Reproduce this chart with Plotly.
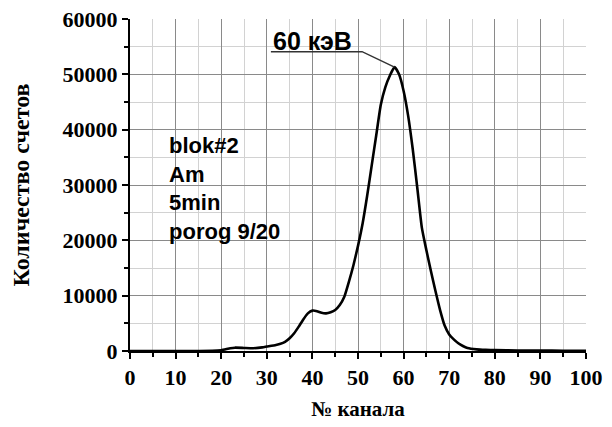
import plotly.graph_objects as go

channels = [0, 5, 10, 15, 18, 20, 22, 23, 25, 27, 29, 30, 32, 33, 34, 35, 36, 37, 38, 39,
            40, 41, 42, 43, 44, 45, 46, 47, 48, 49, 50, 51, 52, 53, 54, 55, 56, 57, 58, 59,
            60, 61, 62, 63, 64, 65, 66, 67, 68, 69, 70, 71, 72, 73, 74, 76, 78, 80, 85, 90, 95, 100]
counts = [0, 0, 0, 0, 30, 150, 500, 600, 550, 500, 650, 800, 1100, 1300, 1650, 2300, 3200, 4400, 5700, 6800,
          7300, 7200, 6900, 6800, 7000, 7400, 8300, 9800, 12500, 15500, 19000, 23000, 28000, 33500, 39000, 44500,
          47700, 49800, 51300, 50000,
          47000, 42500, 36500, 29500, 22300, 18200, 14400, 10800, 7400, 4600, 3000, 2100, 1400, 900, 550, 300, 200,
          150, 100, 80, 50, 30]

x_ticks = [0, 10, 20, 30, 40, 50, 60, 70, 80, 90, 100]
y_ticks = [0, 10000, 20000, 30000, 40000, 50000, 60000]
y_tick_labels = ["0", "10000", "20000", "30000", "40000", "50000", "60000"]
info_lines = ["blok#2", "Am", "5min", "porog 9/20"]
peak_label = "60 кэВ"

serif = "Liberation Serif, Times New Roman, serif"
sans = "Liberation Sans, Arial, sans-serif"

ipk = counts.index(max(counts))
px, py = channels[ipk], counts[ipk]

fig = go.Figure()
fig.add_trace(go.Scatter(x=channels, y=counts, mode="lines",
                         line=dict(color="black", width=2.6, shape="spline", smoothing=0.5),
                         showlegend=False))

axis_common = dict(
    showline=True, linecolor="black", linewidth=2,
    ticks="outside", ticklen=6, tickwidth=2, tickcolor="black",
    showgrid=True, gridcolor="#8a8a8a", gridwidth=1, zeroline=False,
    automargin=False, ticklabeloverflow="allow",
    tickfont=dict(family=serif, size=22, color="black", weight="bold"),
)

fig.update_xaxes(range=[0, 100], tickvals=x_ticks, ticktext=[str(v) for v in x_ticks], **axis_common,
                 minor=dict(dtick=5, showgrid=True, gridcolor="#d2d2d2", gridwidth=1,
                            ticks="outside", ticklen=4, tickcolor="black", tickwidth=2),
                 title=dict(text="№ канала", standoff=12,
                            font=dict(family=serif, size=21, color="black", weight="bold")))
fig.update_yaxes(range=[0, 60000], tickvals=y_ticks, ticktext=y_tick_labels, **axis_common,
                 minor=dict(dtick=5000, showgrid=True, gridcolor="#d2d2d2", gridwidth=1,
                            ticks="outside", ticklen=4, tickcolor="black", tickwidth=2),
                 title=dict(text="Количество счетов", standoff=26,
                            font=dict(family=serif, size=24, color="black", weight="bold")))

# leader line for peak label
fig.add_shape(type="path",
              path=f"M {px - 27.1} {py + 2800} L {px - 7.1} {py + 2800} L {px} {py}",
              line=dict(color="#333333", width=1.5), xref="x", yref="y")
fig.add_annotation(x=px - 27, y=py + 4700, xref="x", yref="y", text=peak_label,
                   showarrow=False, xanchor="left", yanchor="middle",
                   font=dict(family=sans, size=25, color="black", weight="bold"))

fig.add_annotation(x=8.2, y=29300, xref="x", yref="y", text="<br>".join(info_lines),
                   showarrow=False, xanchor="left", yanchor="middle", align="left",
                   font=dict(family=sans, size=22, color="black", weight="bold"))

# page body has an 8px default margin, so the figure is sized to fit inside it
fig.update_layout(
    width=604, height=419,
    margin=dict(l=122, r=26, t=11, b=76),
    plot_bgcolor="white", paper_bgcolor="white",
)

fig.write_html("out.html")
